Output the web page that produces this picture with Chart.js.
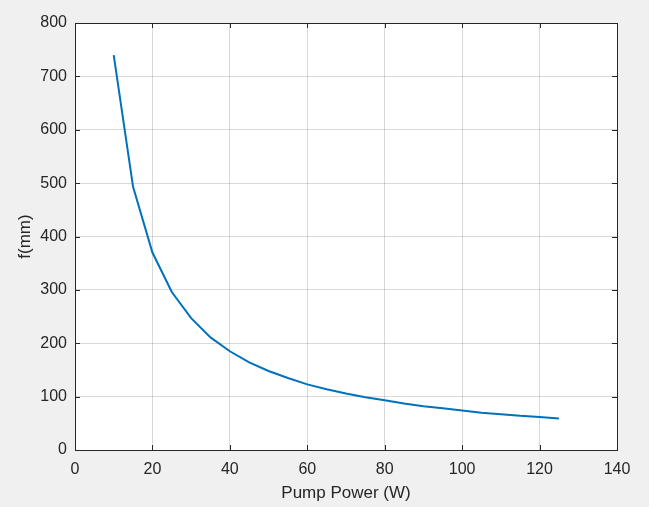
<!DOCTYPE html>
<html>
<head>
<meta charset="utf-8">
<script src="https://cdn.jsdelivr.net/npm/chart.js@4.4.1/dist/chart.umd.min.js"></script>
<style>
  html, body { margin: 0; padding: 0; background: #f0f0f0; }
  #wrap { width: 649px; height: 507px; }
</style>
</head>
<body>
<div id="wrap"><canvas id="chart" width="649" height="507"></canvas></div>
<script>
// pump power (W) and focal length f (mm)
const power = [10, 15, 20, 25, 30, 35, 40, 45, 50, 55, 60, 65, 70, 75, 80, 85, 90, 95, 100, 105, 110, 115, 120, 125];
const focal = [740, 493, 370, 296, 247, 211, 185, 164, 148, 135, 123, 114, 106, 99, 93, 87, 82, 78, 74, 70, 67, 64, 62, 59];

const xTicks = [0, 20, 40, 60, 80, 100, 120, 140];
const yTicks = [0, 100, 200, 300, 400, 500, 600, 700, 800];

const textColor = "#262626";
const fontFamily = "'Liberation Sans', Arial, Helvetica, sans-serif";

// white plot area + box with inward ticks, like matlab
const boxPlugin = {
    id: "box",
    beforeDraw(chart) {
        const { ctx, chartArea: a } = chart;
        ctx.save();
        ctx.fillStyle = "#ffffff";
        ctx.fillRect(a.left, a.top, a.right - a.left, a.bottom - a.top);
        ctx.restore();
    },
    afterDraw(chart) {
        const { ctx, chartArea: a, scales } = chart;
        ctx.save();
        ctx.strokeStyle = "#262626";
        ctx.lineWidth = 1;
        ctx.strokeRect(Math.round(a.left) + 0.5, Math.round(a.top) + 0.5,
            Math.round(a.right - a.left), Math.round(a.bottom - a.top));
        const len = 5;
        ctx.beginPath();
        xTicks.forEach((v) => {
            const x = Math.round(scales.x.getPixelForValue(v)) + 0.5;
            ctx.moveTo(x, a.bottom); ctx.lineTo(x, a.bottom - len);
            ctx.moveTo(x, a.top); ctx.lineTo(x, a.top + len);
        });
        yTicks.forEach((v) => {
            const y = Math.round(scales.y.getPixelForValue(v)) + 0.5;
            ctx.moveTo(a.left, y); ctx.lineTo(a.left + len, y);
            ctx.moveTo(a.right, y); ctx.lineTo(a.right - len, y);
        });
        ctx.stroke();
        ctx.restore();
    }
};

const ctx = document.getElementById("chart").getContext("2d");

new Chart(ctx, {
    type: "scatter",
    data: {
        datasets: [
            {
                data: power.map((p, i) => ({ x: p, y: focal[i] })),
                showLine: true,
                borderColor: "#0072bd",
                borderWidth: 2,
                pointRadius: 0,
                tension: 0,
                fill: false,
            },
        ],
    },
    options: {
        responsive: false,
        animation: false,
        layout: { padding: { left: 0, right: 32, top: 23, bottom: 0 } },
        plugins: {
            legend: { display: false },
            tooltip: { enabled: false },
        },
        scales: {
            x: {
                type: "linear",
                min: 0,
                max: 140,
                afterBuildTicks: (s) => { s.ticks = xTicks.map((v) => ({ value: v })); },
                afterFit: (s) => { s.height = 57; },
                grid: { color: "rgba(0,0,0,0.15)", drawTicks: false },
                border: { display: false },
                ticks: { color: textColor, padding: 10, font: { family: fontFamily, size: 16 } },
                title: {
                    display: true,
                    text: "Pump Power (W)",
                    color: textColor,
                    padding: { top: 0, bottom: 3 },
                    font: { family: fontFamily, size: 17 },
                },
            },
            y: {
                type: "linear",
                min: 0,
                max: 800,
                afterBuildTicks: (s) => { s.ticks = yTicks.map((v) => ({ value: v })); },
                afterFit: (s) => { s.width = 75; },
                grid: { color: "rgba(0,0,0,0.15)", drawTicks: false },
                border: { display: false },
                ticks: { color: textColor, padding: 8, font: { family: fontFamily, size: 16 } },
                title: {
                    display: true,
                    text: "f(mm)",
                    color: textColor,
                    padding: { top: 15, bottom: 0 },
                    font: { family: fontFamily, size: 17 },
                },
            },
        },
    },
    plugins: [boxPlugin],
});
</script>
</body>
</html>
